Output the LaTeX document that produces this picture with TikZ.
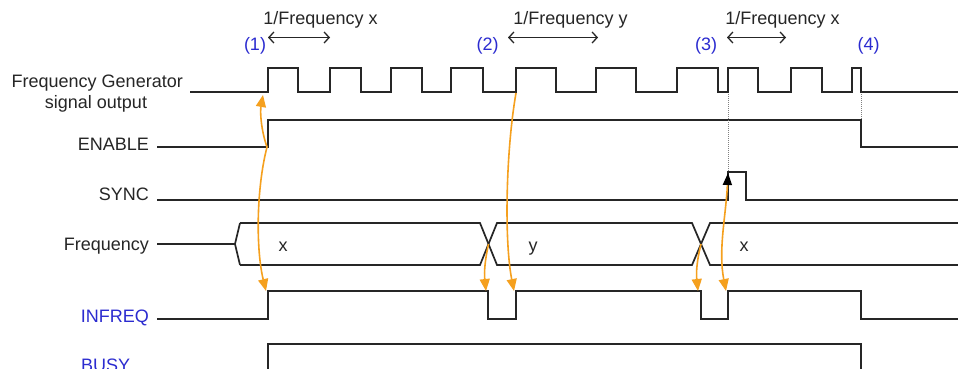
\documentclass[tikz,border=0pt]{standalone}
\usepackage{fontspec}
\setmainfont{Liberation Sans}
\usetikzlibrary{arrows.meta}
\definecolor{sig}{HTML}{262626}
\definecolor{evt}{HTML}{F5A01E}
\definecolor{lbl}{HTML}{2B2BD0}
\tikzset{
  wave/.style={draw=sig, line width=1.7pt, line join=miter},
  evtarrow/.style={draw=evt, line width=1.6pt, -{Triangle[length=12pt,width=10pt,fill=evt]}},
  period/.style={draw=sig, line width=1.3pt, {Straight Barb[length=5pt,width=11pt]}-{Straight Barb[length=5pt,width=11pt]}},
  guide/.style={draw=gray, line width=1pt, densely dotted},
  siglabel/.style={font=\fontsize{18}{21}\selectfont, text=sig, inner sep=0pt},
  numlabel/.style={font=\fontsize{18}{21}\selectfont, text=lbl, inner sep=0pt},
}
\begin{document}
\begin{tikzpicture}[x=1pt,y=-1pt]
\clip (0,0) rectangle (958,369);
\fill[white] (0,0) rectangle (958,369);

% signal labels
\node[siglabel, anchor=base east] (lgen) at (183,87) {Frequency Generator};
\node[siglabel, anchor=base] (lgen2) at (96,108) {signal output};
\node[siglabel, anchor=base east] (len) at (149,150) {ENABLE};
\node[siglabel, anchor=base east] (lsync) at (149,200.5) {SYNC};
\node[siglabel, anchor=base east] (lfreq) at (149,250) {Frequency};
\node[numlabel, anchor=base east] (linfreq) at (149,322) {INFREQ};
\node[numlabel, anchor=base west] (lbusy) at (81,371) {BUSY};

% Frequency generator output
\draw[wave] (190,92) -- (268,92) -- (268,68) -- (298,68) -- (298,92)
  -- (330,92) -- (330,68) -- (361,68) -- (361,92)
  -- (391,92) -- (391,68) -- (422,68) -- (422,92)
  -- (451,92) -- (451,68) -- (483,68) -- (483,92)
  -- (516,92) -- (516,68) -- (556,68) -- (556,92)
  -- (596,92) -- (596,68) -- (636,68) -- (636,92)
  -- (677,92) -- (677,68) -- (718,68) -- (718,92)
  -- (728,92) -- (728,68) -- (758,68) -- (758,92)
  -- (791,92) -- (791,68) -- (822,68) -- (822,92)
  -- (852,92) -- (852,68) -- (861,68) -- (861,92) -- (958,92);

% ENABLE
\draw[wave] (157,147) -- (268,147) -- (268,120) -- (861,120) -- (861,147) -- (958,147);
% SYNC
\draw[wave] (157,200) -- (728,200) -- (728,172) -- (746,172) -- (746,200) -- (958,200);
% Frequency bus
\draw[wave] (157,244) -- (235,244);
\draw[wave] (240,223) -- (235,244) -- (240,265);
\draw[wave] (240,223) -- (480,223) -- (497,265) -- (692,265) -- (710,223) -- (958,223);
\draw[wave] (240,265) -- (480,265) -- (497,223) -- (692,223) -- (710,265) -- (958,265);
\node[siglabel, anchor=base] (bx1) at (283,251) {x};
\node[siglabel, anchor=base] (by) at (533,251) {y};
\node[siglabel, anchor=base] (bx2) at (744,251) {x};
% INFREQ
\draw[wave] (157,319) -- (268,319) -- (268,291) -- (488,291) -- (488,319) -- (516,319)
  -- (516,291) -- (701,291) -- (701,319) -- (728,319) -- (728,291) -- (861,291)
  -- (861,319) -- (958,319);
% BUSY
\draw[wave] (157,378) -- (268,378) -- (268,344) -- (861,344) -- (861,378) -- (958,378);

% guides
\draw[guide] (728,94) -- (728,171);
\draw[guide] (861,94) -- (861,119);

% period annotations
\node[siglabel] (t1) at (320.5,20) {1/Frequency x};
\node[siglabel] (t2) at (570.5,20) {1/Frequency y};
\node[siglabel] (t3) at (782.5,20) {1/Frequency x};
\coordinate (p1a) at (268,37.5); \coordinate (p1b) at (330,37.5);
\coordinate (p2a) at (508,37.5); \coordinate (p2b) at (598,37.5);
\coordinate (p3a) at (727,37.5); \coordinate (p3b) at (786,37.5);
\draw[period] (p1a) -- (p1b);
\draw[period] (p2a) -- (p2b);
\draw[period] (p3a) -- (p3b);

% event numbers
\node[numlabel] (n1) at (255,46) {(1)};
\node[numlabel] (n2) at (487.5,46) {(2)};
\node[numlabel] (n3) at (706,46) {(3)};
\node[numlabel] (n4) at (868.5,46) {(4)};

% event points
\coordinate (enR) at (267,147);
\coordinate (genR1) at (263,95);
\coordinate (inR1) at (266,291);
\coordinate (genR2) at (516,93);
\coordinate (inR2) at (514,291);
\coordinate (cross1) at (488.5,244);
\coordinate (inF2) at (486,291);
\coordinate (cross2) at (701,244);
\coordinate (inF3) at (698,291);
\coordinate (syncR) at (728,173);
\coordinate (inR3) at (726,291);

% causal arrows
\draw[evtarrow] (enR) .. controls (261,130) and (260,112) .. (genR1);
\draw[evtarrow] (enR) .. controls (256,190) and (256,250) .. (inR1);
\draw[evtarrow] (genR2) .. controls (506,150) and (504,240) .. (inR2);
\draw[evtarrow] (cross1) .. controls (485,260) and (484,272) .. (inF2);
\draw[evtarrow] (cross2) .. controls (697,260) and (696,272) .. (inF3);
\draw[draw=evt, line width=1.6pt, {Triangle[length=12pt,width=9pt,fill=black,color=black]}-{Triangle[length=12pt,width=10pt,fill=evt]}]
  (syncR) .. controls (726,215) and (718,250) .. (inR3);
\end{tikzpicture}
\end{document}
